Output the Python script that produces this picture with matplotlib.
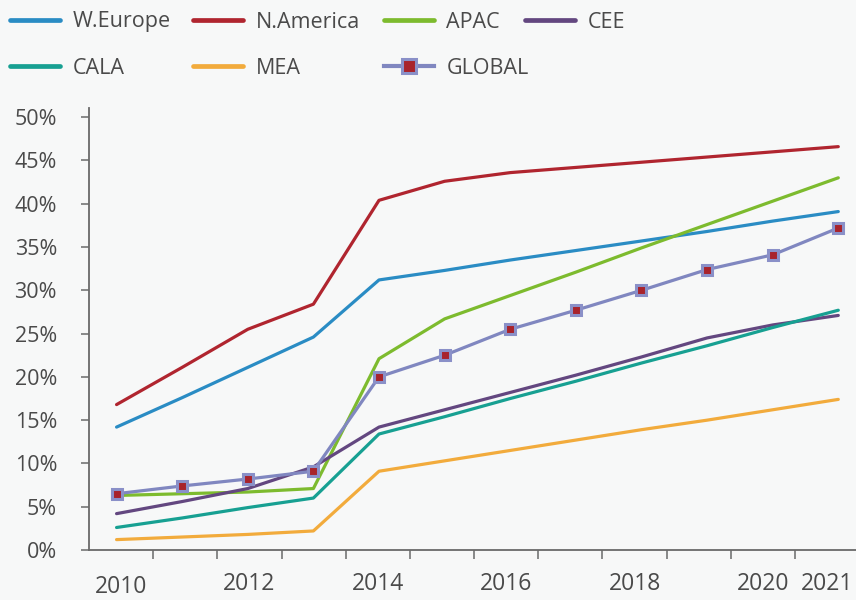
import numpy as np
import matplotlib
matplotlib.use("Agg")
import matplotlib.pyplot as plt
from matplotlib.lines import Line2D

# data (share, %)
years = [2010, 2011, 2012, 2013, 2014, 2015, 2016, 2017, 2018, 2019, 2020, 2021]
w_europe = [14.2, 17.6, 21.1, 24.6, 31.2, 32.3, 33.5, 34.6, 35.7, 36.8, 38.0, 39.1]
n_america = [16.8, 21.1, 25.5, 28.4, 40.4, 42.6, 43.6, 44.2, 44.8, 45.4, 46.0, 46.6]
apac = [6.3, 6.5, 6.7, 7.1, 22.1, 26.7, 29.4, 32.1, 34.9, 37.6, 40.3, 43.0]
cee = [4.2, 5.6, 7.1, 9.6, 14.2, 16.2, 18.2, 20.2, 22.3, 24.5, 26.0, 27.1]
cala = [2.6, 3.7, 4.9, 6.0, 13.4, 15.4, 17.5, 19.5, 21.6, 23.6, 25.7, 27.7]
mea = [1.2, 1.5, 1.8, 2.2, 9.1, 10.3, 11.5, 12.7, 13.9, 15.0, 16.2, 17.4]
global_avg = [6.5, 7.4, 8.2, 9.1, 20.0, 22.5, 25.5, 27.7, 30.0, 32.4, 34.1, 37.2]

tick_years = [2010, 2012, 2014, 2016, 2018, 2020, 2021]
y_ticks = [0, 5, 10, 15, 20, 25, 30, 35, 40, 45, 50]

colors = {
    "W.Europe": "#2a8cc4",
    "N.America": "#b0252f",
    "APAC": "#7dbb2e",
    "CEE": "#634780",
    "CALA": "#17a092",
    "MEA": "#f2ab3c",
    "GLOBAL": "#8087c0",
}
series = [
    ("W.Europe", w_europe),
    ("N.America", n_america),
    ("APAC", apac),
    ("CEE", cee),
    ("CALA", cala),
    ("MEA", mea),
]

bg = "#f7f8f8"
txt = "#4a4a4a"
axc = "#6a6a6a"
mk_face = "#a8232b"
mk_edge = "#8a90c8"

plt.rcParams['font.family'] = ['Open Sans', 'DejaVu Sans']

fig = plt.figure(figsize=(8.56, 6.0), dpi=100, facecolor=bg)
ax = fig.add_axes([89 / 856, 50 / 600, 767 / 856, 442.3 / 600])
ax.set_facecolor(bg)

for name, vals in series:
    ax.plot(years, vals, color=colors[name], lw=2.3, solid_capstyle='round', zorder=2)

ax.plot(years, global_avg, color=colors["GLOBAL"], lw=2.3, marker='s', markersize=7.8,
        markerfacecolor=mk_face, markeredgecolor=mk_edge, markeredgewidth=2.2, zorder=3)

ax.set_xlim(2009.58, 2021.27)
ax.set_ylim(0, 51.1)
ax.set_yticks(y_ticks)
ax.set_yticklabels([f"{v}%" for v in y_ticks])
ax.set_xticks([])

for s in ['top', 'right']:
    ax.spines[s].set_visible(False)
for s in ['left', 'bottom']:
    ax.spines[s].set_color(axc)
    ax.spines[s].set_linewidth(1.3)
ax.tick_params(axis='y', length=6, width=1.1, color=axc, pad=17, labelsize=15.5, labelcolor=txt)

# category axis for the year labels (labels centred on the categories, ticks between)
cat = ax.twiny()
cat.set_xlim(-0.5, 11.45)
cat.xaxis.set_ticks_position('bottom')
cat.xaxis.set_label_position('bottom')
for s in cat.spines.values():
    s.set_visible(False)
cat.set_xticks([years.index(y) for y in tick_years])
cat.set_xticklabels([str(y) for y in tick_years])
cat.set_xticks([k + 0.5 for k in range(len(years) - 1)], minor=True)
cat.tick_params(axis='x', which='major', length=0, pad=16, labelsize=16.5, labelcolor=txt)
cat.tick_params(axis='x', which='minor', length=6.5, width=1.1, color=axc)
# first label sits a little lower in the reference
cat.get_xticklabels()[0].set_y(-0.006)

# legend laid out on a grid like the original
legend_items = [
    ("W.Europe", 10, 22),
    ("N.America", 193, 22),
    ("APAC", 384, 22),
    ("CEE", 525, 22),
    ("CALA", 10, 68),
    ("MEA", 193, 68),
    ("GLOBAL", 384, 68),
]
for name, px, py in legend_items:
    if name == "GLOBAL":
        h = Line2D([], [], color=colors[name], lw=3, marker='s', markersize=10,
                   markerfacecolor=mk_face, markeredgecolor=mk_edge, markeredgewidth=2.2)
    else:
        h = Line2D([], [], color=colors[name], lw=3.4, solid_capstyle='round')
    fig.legend([h], [name], loc='center left', bbox_to_anchor=(px / 856, 1 - py / 600),
               frameon=False, borderpad=0, borderaxespad=0, handlelength=2.3,
               handletextpad=0.6, prop={'size': 15.5}, labelcolor=txt)

fig.savefig("out.png", dpi=100, facecolor=bg)
